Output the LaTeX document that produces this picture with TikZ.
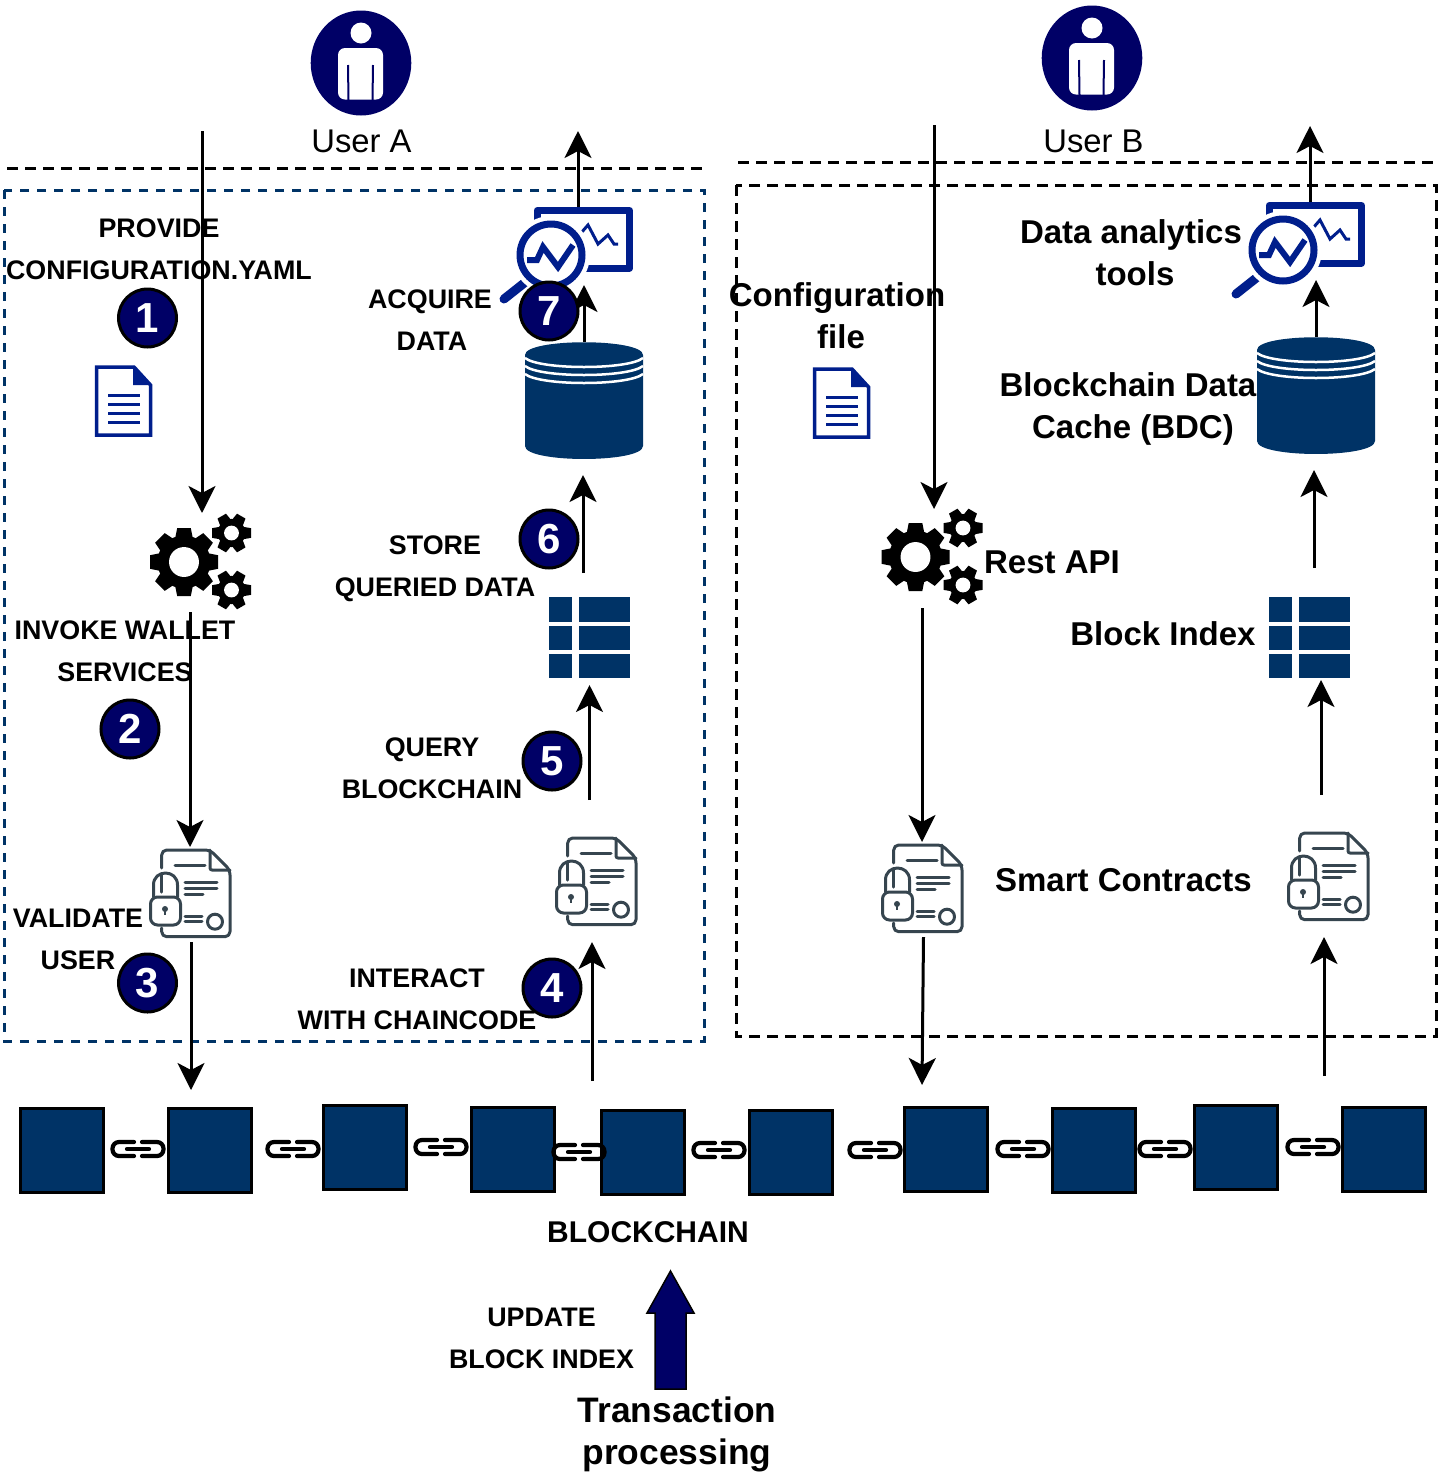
\documentclass[tikz,border=0pt]{standalone}
\usepackage{fontspec}
\setmainfont{Liberation Sans}
\usetikzlibrary{arrows.meta}
\definecolor{blockblue}{HTML}{003366}
\definecolor{circnavy}{HTML}{000066}
\definecolor{iconblue}{HTML}{001E8C}
\definecolor{slate}{HTML}{36454F}
\tikzset{
  flow/.style={draw=black,line width=3pt,-{Stealth[length=27pt,width=27pt,inset=7pt]}},
  smalllabel/.style={inner sep=0pt,align=center,font=\fontsize{26.85}{42}\selectfont\bfseries,text=black},
  chainlabel/.style={inner sep=0pt,align=center,font=\fontsize{30}{42}\selectfont\bfseries,text=black},
  biglabel/.style={inner sep=0pt,align=center,font=\fontsize{33}{42}\selectfont\bfseries,text=black},
  userlabel/.style={inner sep=0pt,font=\fontsize{32.8}{42}\selectfont,text=black},
  hugelabel/.style={inner sep=0pt,align=center,font=\fontsize{35.4}{42}\selectfont\bfseries,text=black},
  stepnum/.style={circle,draw=black,line width=3pt,fill=circnavy,text=white,minimum size=58pt,inner sep=0pt,font=\fontsize{42}{42}\selectfont\bfseries},
  chainblock/.style={draw=black,line width=3pt,fill=blockblue,minimum size=83.5pt,inner sep=0pt,rectangle},
  pics/person/.style={code={
    \fill[circnavy] (361,63) ellipse [x radius=50.3,y radius=52.5];
    \fill[white] (361,33) circle (10.5);
    \fill[white,rounded corners=7pt] (338,99.5) -- (338,48) -- (383,48) -- (383,99.5) -- cycle;
    \draw[circnavy,line width=2pt] (348,65) -- (348.5,100) (373,65) -- (372.5,100);
  }},
  pics/docicon/.style={code={
    \draw[iconblue,line width=3.5pt,fill=white,line join=miter] (96.5,367) -- (134,367) -- (150.5,385) -- (150.5,435) -- (96.5,435) -- cycle;
    \fill[iconblue] (133,365.5) -- (152,385) -- (133,385) -- cycle;
    \foreach \yy in {395,404,413,422}{\draw[iconblue,line width=3pt] (108,\yy) -- (140,\yy);}
  }},
  pics/gears/.style={code={
    \gearicon{184}{562}{34}{8}{0.2}{0.44}{0.78}
    \gearicon{231.5}{533}{19.5}{6}{0.25}{0.38}{0.72}
    \gearicon{231.5}{590}{19.5}{6}{0.25}{0.38}{0.72}
  }},
  pics/contract/.style={code={
    \begin{scope}[slate,line width=3pt,line cap=round,line join=round]
      \draw[rounded corners=5pt] (161.7,868) -- (161.7,850) -- (210,850) -- (230,870) -- (230,936.7) -- (161.7,936.7) -- (161.7,928);
      \draw[rounded corners=2pt] (210,850) -- (210,870) -- (230,870);
      \draw (175,865) -- (205,865);
      \draw[fill=white,rounded corners=7pt] (150.5,897) -- (180.5,897) -- (180.5,925) -- (150.5,925) -- cycle;
      \draw (153.5,897) -- (153.5,885) .. controls (153.5,869) and (177.5,869) .. (177.5,885) -- (177.5,897);
      \draw (161.7,875) -- (161.7,892);
      \draw (185,882) -- (217,882) (185,888) -- (217,888) (185,894) -- (203,894);
      \draw (185,916) -- (202,916) (185,921) -- (202,921);
      \draw (215,921.7) circle (7.5);
    \end{scope}
    \fill[slate] (165,909) circle (3);
    \draw[slate,line width=2pt] (165,909) -- (165,915);
  }},
  pics/analytics/.style={code={
    \draw[iconblue,line width=7pt,line join=round] (537,222) -- (537,210.5) -- (629.5,210.5) -- (629.5,268) -- (580,268);
    \draw[iconblue,line width=3pt,line join=miter] (581,233) -- (588,225) -- (598,244) -- (608,235) -- (614,244) -- (618,244);
    \draw[iconblue,line width=9pt,line cap=round] (528,280) -- (504,299);
    \draw[white,line width=4pt,fill=white] (551,255) circle (37);
    \draw[iconblue,line width=7pt] (551,255) circle (31);
    \draw[iconblue,line width=6pt,line join=miter] (527,260) -- (537,260) -- (543,247) -- (558,267) -- (573,245);
  }},
  pics/dbcyl/.style={code={
    \fill[blockblue] (525,355) .. controls (525,338) and (643,338) .. (643,355) -- (643,446) .. controls (643,463.3) and (525,463.3) .. (525,446) -- cycle;
    \foreach \yy in {358,366,374}{
      \draw[white,line width=2.5pt] (525,\yy) .. controls (540,\yy+12) and (628,\yy+12) .. (643,\yy);
    }
  }},
  pics/tableicon/.style={code={
    \foreach \ya/\yb in {597/622,626/650,654/678}{
      \fill[blockblue] (549,\ya) rectangle (572,\yb);
      \fill[blockblue] (579,\ya) rectangle (630,\yb);
    }
  }},
  pics/chainlink/.style={code={
    \draw[black,line width=4.2pt,line cap=round,rounded corners=6.5pt] (-4,-7) -- (-25.5,-7) -- (-25.5,7) -- (-4,7);
    \draw[black,line width=4.2pt,line cap=round,rounded corners=6.5pt] (4,-7) -- (25.5,-7) -- (25.5,7) -- (4,7);
    \draw[black,line width=4.2pt,line cap=round] (-11,0) -- (11,0);
  }},
}
\newcommand{\gearicon}[7]{%
  \begin{scope}[shift={(#1,#2)},scale=#3]
    \fill[black] (0,0) circle (#7);
    \pgfmathsetmacro{\gearstep}{360/#4}
    \foreach \k in {1,...,#4}{
      \fill[black,rotate=\k*\gearstep] (#7-0.08,-#5-0.06) -- (1,-#5) -- (1,#5) -- (#7-0.08,#5+0.06) -- cycle;
    }
    \fill[white] (0,0) circle (#6);
  \end{scope}%
}
\begin{document}
\begin{tikzpicture}[x=1pt,y=-1pt]
\useasboundingbox (0,0) rectangle (1449,1476);

% frames
\draw[black,line width=3pt,dash pattern=on 11pt off 7pt] (7,168) -- (702,168);
\draw[blockblue,line width=3pt,dash pattern=on 9pt off 8pt] (4,190) rectangle (704,1041);
\draw[black,line width=3pt,dash pattern=on 11pt off 7pt] (738,162) -- (1434,162);
\draw[black,line width=3pt,dash pattern=on 11pt off 7pt] (736,185) rectangle (1436,1036);

% chain
\node[chainblock] (b1) at (62,1150.5) {};
\node[chainblock] (b2) at (210,1150.5) {};
\node[chainblock] (b3) at (365,1147.5) {};
\node[chainblock] (b4) at (513,1149.5) {};
\node[chainblock] (b5) at (643,1152.5) {};
\node[chainblock] (b6) at (791,1152.5) {};
\node[chainblock] (b7) at (946,1149.5) {};
\node[chainblock] (b8) at (1094,1150.5) {};
\node[chainblock] (b9) at (1236,1147.5) {};
\node[chainblock] (b10) at (1384,1149.5) {};
\pic at (138,1149) {chainlink};
\pic at (293,1149) {chainlink};
\pic at (441,1147) {chainlink};
\pic at (579,1152) {chainlink};
\pic at (719,1150) {chainlink};
\pic at (875,1150) {chainlink};
\pic at (1023,1149) {chainlink};
\pic at (1165,1149) {chainlink};
\pic at (1313,1147) {chainlink};

% icons
\pic at (0,0) {person};
\pic at (731,-5) {person};
\pic at (0,0) {docicon};
\pic at (718,2) {docicon};
\pic at (0,0) {gears};
\pic at (731.5,-5) {gears};
\pic at (0,0) {contract};
\pic at (406,-12) {contract};
\pic at (732,-5) {contract};
\pic at (1138,-17) {contract};
\pic at (0,0) {analytics};
\pic at (732,-5) {analytics};
\pic at (0,0) {dbcyl};
\pic at (732,-5) {dbcyl};
\pic at (0,0) {tableicon};
\pic at (720,0) {tableicon};

% connector ends
\coordinate (a1s) at (202,131);   \coordinate (a1e) at (202,513);
\coordinate (a2s) at (190,612);   \coordinate (a2e) at (190,847);
\coordinate (a3s) at (191,942);   \coordinate (a3e) at (191,1090);
\coordinate (a4s) at (592,1081);  \coordinate (a4e) at (592,942);
\coordinate (a5s) at (589.5,800); \coordinate (a5e) at (589.5,685);
\coordinate (a6s) at (583,573);   \coordinate (a6e) at (583,475);
\coordinate (a7s) at (584,342);   \coordinate (a7e) at (584,285);
\coordinate (a8s) at (578,207);   \coordinate (a8e) at (578,131);
\coordinate (c1s) at (934,125);   \coordinate (c1e) at (934,509);
\coordinate (c2s) at (922,608);   \coordinate (c2e) at (922,842);
\coordinate (c3s) at (923.5,937); \coordinate (c3e) at (922,1085);
\coordinate (c4s) at (1324,1076); \coordinate (c4e) at (1324,937);
\coordinate (c5s) at (1321,795);  \coordinate (c5e) at (1321,680);
\coordinate (c6s) at (1314,568);  \coordinate (c6e) at (1314,470);
\coordinate (c7s) at (1316,337);  \coordinate (c7e) at (1316,280);
\coordinate (c8s) at (1310,202);  \coordinate (c8e) at (1310,126);
\foreach \nm in {a1,a2,a3,a4,a5,a6,a7,a8,c1,c2,c3,c4,c5,c6,c7,c8}{
  \draw[flow] (\nm s) -- (\nm e);
}

% big arrow
\draw[fill=circnavy,draw=black,line width=1.5pt,line join=miter] (655,1389) -- (655,1313) -- (647,1313) -- (670.5,1271) -- (694,1313) -- (686,1313) -- (686,1389) -- cycle;

% step circles
\node[stepnum] (s1) at (147.5,318) {1};
\node[stepnum] (s2) at (130,729) {2};
\node[stepnum] (s3) at (147.5,983) {3};
\node[stepnum] (s4) at (552,988) {4};
\node[stepnum] (s5) at (552,761) {5};
\node[stepnum] (s6) at (549,539) {6};
\node[stepnum] (s7) at (549,311) {7};

% labels
\node[userlabel] (ua) at (361.5,141.5) {User A};
\node[userlabel] (ub) at (1093.5,141.5) {User B};
\node[smalllabel] (l1) at (159,249) {PROVIDE\\CONFIGURATION.YAML};
\node[smalllabel] (l2) at (430,320.5) {ACQUIRE\hspace{2pt}\\\hspace{4pt}DATA};
\node[smalllabel] (l3) at (435,569) {STORE\\QUERIED DATA};
\node[smalllabel] (l4) at (432,768) {QUERY\\BLOCKCHAIN};
\node[smalllabel] (l5) at (125,651) {INVOKE WALLET\\SERVICES};
\node[smalllabel] (l6) at (78,939) {VALIDATE\\USER};
\node[smalllabel] (l7) at (417,999) {INTERACT\\WITH CHAINCODE};
\node[chainlabel] (l8) at (648,1232) {BLOCKCHAIN};
\node[smalllabel] (l9) at (541.5,1338) {UPDATE\\BLOCK INDEX};
\node[hugelabel] (l10) at (677,1434) {Transaction\\processing};
\node[biglabel] (r1) at (1131,253) {Data analytics\\\hspace{8pt}tools};
\node[biglabel] (r2) at (837,316) {Configuration\\\hspace{8pt}file};
\node[biglabel] (r3) at (1128,409) {Blockchain Data\\\hspace{10pt}Cache (BDC)};
\node[biglabel] (r4) at (1052,562) {Rest API};
\node[biglabel] (r5) at (1163,634) {Block Index};
\node[biglabel] (r6) at (1123.5,880) {Smart Contracts};
\end{tikzpicture}
\end{document}
